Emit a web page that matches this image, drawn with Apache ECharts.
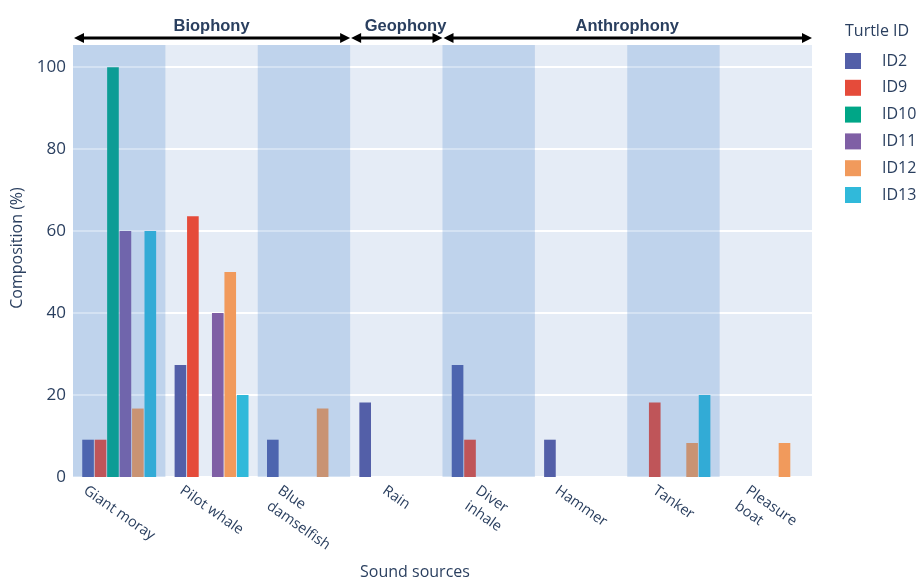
<!DOCTYPE html>
<html><head><meta charset="utf-8">
<script src="https://cdn.jsdelivr.net/npm/echarts@6/dist/echarts.min.js"></script>
<style>html,body{margin:0;padding:0;background:#fff}#chart{width:918px;height:581px}</style>
</head><body><div id="chart"></div>
<script>
// ---- data ----
const categories = ['Giant moray', 'Pilot whale', 'Blue\ndamselfish', 'Rain', 'Diver\ninhale', 'Hammer', 'Tanker', 'Pleasure\nboat'];
const seriesNames = ['ID2', 'ID9', 'ID10', 'ID11', 'ID12', 'ID13'];
const ID2  = [9.1, 27.3, 9.1, 18.2, 27.3, 9.1, 0, 0];
const ID9  = [9.1, 63.6, 0, 0, 9.1, 0, 18.2, 0];
const ID10 = [100, 0, 0, 0, 0, 0, 0, 0];
const ID11 = [60, 40, 0, 0, 0, 0, 0, 0];
const ID12 = [16.7, 50, 16.7, 0, 0, 0, 8.3, 8.3];
const ID13 = [60, 20, 0, 0, 0, 0, 20, 0];
const yTicks = [0, 20, 40, 60, 80, 100];
const shadedBands = [1, 0, 1, 0, 1, 0, 1, 0];
const groupNames = ['Biophony', 'Geophony', 'Anthrophony'];
const groupFirst = [0, 3, 4];
const groupLast = [2, 3, 7];
const groupLabelAt = [1, 3.1, 5.5];

// ---- style ----
const seriesValues = [ID2, ID9, ID10, ID11, ID12, ID13];
const colors = ['#535FA8', '#E54B3A', '#00A687', '#7F5FA5', '#F19A5C', '#30B9DA'];
const textColor = '#2A3F5F';
const FONT = '"Open Sans", "Noto Sans", sans-serif';
const yMax = 105.4;

const chart = echarts.init(document.getElementById('chart'), null, {renderer: 'canvas'});

const series = seriesNames.map((n, i) => ({
  name: n, type: 'bar', xAxisIndex: 0, yAxisIndex: 0,
  data: seriesValues[i],
  barCategoryGap: '20%', barGap: '7%',
  itemStyle: {color: colors[i]},
  z: 2
}));
series.push({
  name: 'bands', type: 'bar', xAxisIndex: 1, yAxisIndex: 0,
  data: shadedBands.map(s => s ? yMax : null),
  barWidth: '100%', silent: true, z: 5,
  itemStyle: {color: 'rgba(60,122,200,0.22)'}
});

const option = {
  animation: false,
  backgroundColor: '#fff',
  grid: {left: 73, right: 106, top: 45, bottom: 104, show: true, backgroundColor: '#E5ECF6', borderWidth: 0, containLabel: false},
  legend: {
    orient: 'vertical', left: 840, top: 48, itemWidth: 16, itemHeight: 16, itemGap: 10.8,
    icon: 'rect', data: seriesNames, selectedMode: false,
    textStyle: {fontSize: 16, color: textColor, fontFamily: FONT, lineHeight: 16, padding: [0, 0, 0, 16]}
  },
  xAxis: [
    {type: 'category', data: categories, axisLine: {show: false}, axisTick: {show: false}, axisLabel: {show: false}, splitLine: {show: false}},
    {type: 'category', data: categories, show: false}
  ],
  yAxis: {
    type: 'value', min: 0, max: yMax, interval: 20,
    axisLine: {show: false}, axisTick: {show: false},
    axisLabel: {
      fontSize: 17, color: textColor, fontFamily: FONT, margin: 7,
      formatter: v => (yTicks.indexOf(v) >= 0 ? String(v) : ''),
      showMaxLabel: false
    },
    splitLine: {lineStyle: {color: '#fff', width: 2}, showMaxLine: false}
  },
  series: series
};
chart.setOption(option);

// ---- annotations from axis pixels ----
const px = i => chart.convertToPixel({xAxisIndex: 0}, i);
const bandW = px(1) - px(0);
const boundary = i => px(i) - bandW / 2;
const y0 = chart.convertToPixel({yAxisIndex: 0}, 0);
const yTop = chart.convertToPixel({yAxisIndex: 0}, yMax);

const g = [];
// group arrows
const arrowY = yTop - 7;
groupNames.forEach((name, k) => {
  const xa = boundary(groupFirst[k]) + 1;
  const xb = boundary(groupLast[k] + 1);
  const head = 10, hh = 5;
  g.push({type: 'line', silent: true, shape: {x1: xa + head - 1, y1: arrowY, x2: xb - head + 1, y2: arrowY}, style: {stroke: '#000', lineWidth: 3}});
  g.push({type: 'polygon', silent: true, shape: {points: [[xa, arrowY], [xa + head, arrowY - hh], [xa + head, arrowY + hh]]}, style: {fill: '#000'}});
  g.push({type: 'polygon', silent: true, shape: {points: [[xb, arrowY], [xb - head, arrowY - hh], [xb - head, arrowY + hh]]}, style: {fill: '#000'}});
  const lx = px(0) + groupLabelAt[k] * bandW;
  g.push({type: 'text', silent: true, x: lx, y: yTop - 19, style: {text: name, align: 'center', verticalAlign: 'middle', fill: textColor, font: 'bold 16.5px "Liberation Sans", Arial, sans-serif'}});
});

// x tick labels (rotated, block centred on tick, lines left aligned)
const ctx = document.createElement('canvas').getContext('2d');
const xFontSize = 14.5, xLineH = 19;
ctx.font = xFontSize + 'px ' + FONT;
const ang = 35 * Math.PI / 180;
categories.forEach((c, i) => {
  const lines = c.split('\n');
  const W = Math.max(...lines.map(l => ctx.measureText(l).width));
  const H = lines.length * xLineH;
  const bboxH = W * Math.sin(ang) + (H - 4) * Math.cos(ang);
  g.push({type: 'text', silent: true, x: px(i), y: y0 + 6 + bboxH / 2, rotation: -ang,
    style: {text: c, x: -W / 2, y: -H / 2, align: 'left', verticalAlign: 'top', fill: textColor,
      fontSize: xFontSize, fontFamily: FONT, lineHeight: xLineH}});
});

// axis titles & legend title
g.push({type: 'text', silent: true, x: 415, y: 572, style: {text: 'Sound sources', align: 'center', verticalAlign: 'middle', fill: textColor, fontSize: 16, fontFamily: FONT}});
g.push({type: 'text', silent: true, x: 17, y: 248, rotation: Math.PI / 2, style: {text: 'Composition (%)', align: 'center', verticalAlign: 'middle', fill: textColor, fontSize: 16, fontFamily: FONT}});
g.push({type: 'text', silent: true, x: 845, y: 31, style: {text: 'Turtle ID', align: 'left', verticalAlign: 'middle', fill: textColor, fontSize: 16, fontFamily: FONT}});

chart.setOption({graphic: {elements: g}});
</script>
</body></html>
